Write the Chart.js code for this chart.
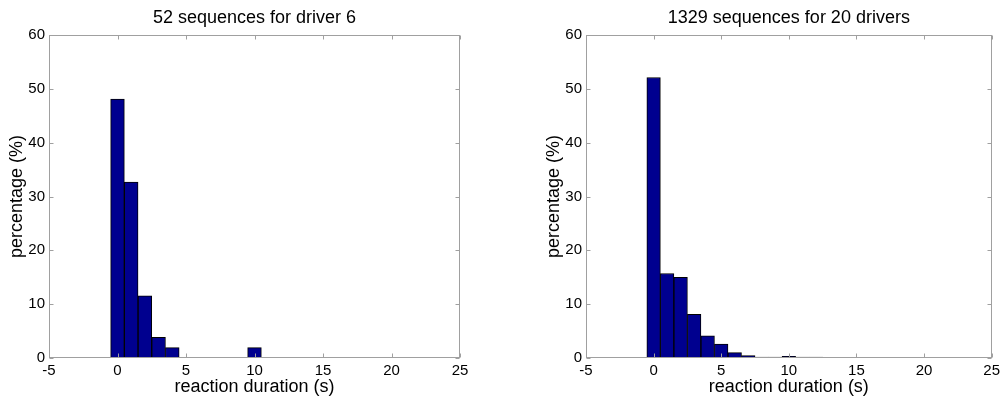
<!DOCTYPE html>
<html>
<head>
<meta charset="utf-8">
<script src="https://cdn.jsdelivr.net/npm/chart.js@4.4.1/dist/chart.umd.min.js"></script>
<style>
  html, body { margin:0; padding:0; background:#fff; }
  body { width:1004px; height:400px; position:relative; overflow:hidden; }
  canvas { position:absolute; top:0; }
</style>
</head>
<body>
<canvas id="left" width="500" height="400" style="left:0"></canvas>
<canvas id="right" width="467" height="400" style="left:537px"></canvas>
<script>
/* histogram bins (s) and percentages */
const leftTitle  = '52 sequences for driver 6';
const leftBins   = [0, 1, 2, 3, 4, 10];
const leftPct    = [48.08, 32.69, 11.54, 3.85, 1.92, 1.92];

const rightTitle = '1329 sequences for 20 drivers';
const rightBins  = [0, 1, 2, 3, 4, 5, 6, 7, 8, 9, 10, 11, 12];
const rightPct   = [52.1, 15.7, 15.0, 8.1, 4.1, 2.6, 1.0, 0.45, 0.15, 0.08, 0.3, 0.15, 0.08];

const xTicks = [-5, 0, 5, 10, 15, 20, 25];
const yTicks = [0, 10, 20, 30, 40, 50, 60];
const xLabel = 'reaction duration (s)';
const yLabel = 'percentage (%)';

Chart.defaults.font.family = "'Liberation Sans', Arial, sans-serif";
Chart.defaults.color = '#000';

const BAR = '#00008F';
const AXIS = '#a0a0a0';

/* matlab-ish frame: box, inward ticks on all four sides, title above */
const frame = {
  id: 'frame',
  afterDraw(chart, args, o) {
    const { ctx, chartArea: a, scales: { x, y } } = chart;
    const L = Math.round(a.left) + 0.5, R = Math.round(a.right) - 0.5;
    const T = Math.round(a.top) + 0.5, B = Math.round(a.bottom) - 0.5;
    ctx.save();
    ctx.strokeStyle = AXIS; ctx.lineWidth = 1;
    ctx.strokeRect(L, T, R - L, B - T);
    ctx.beginPath();
    x.ticks.forEach(t => {
      const px = Math.round(x.getPixelForValue(t.value)) + 0.5;
      ctx.moveTo(px, B); ctx.lineTo(px, B - 4);
      ctx.moveTo(px, T); ctx.lineTo(px, T + 4);
    });
    y.ticks.forEach(t => {
      const py = Math.round(y.getPixelForValue(t.value)) + 0.5;
      ctx.moveTo(L, py); ctx.lineTo(L + 4, py);
      ctx.moveTo(R, py); ctx.lineTo(R - 4, py);
    });
    ctx.stroke();
    ctx.fillStyle = '#000';
    ctx.font = "18px 'Liberation Sans', Arial, sans-serif";
    ctx.textAlign = 'center'; ctx.textBaseline = 'alphabetic';
    ctx.fillText(o.text, (a.left + a.right) / 2, 23);
    ctx.restore();
  }
};

function makeChart(id, title, bins, pct, padRight) {
  return new Chart(document.getElementById(id), {
    type: 'bar',
    data: {
      datasets: [{
        data: bins.map((b, i) => ({ x: b, y: pct[i] })),
        backgroundColor: BAR, borderColor: '#000', borderWidth: 1,
        barPercentage: 1, categoryPercentage: 1, minBarLength: 1
      }]
    },
    options: {
      responsive: false, animation: false,
      layout: { padding: { top: 35, right: padRight, bottom: 0, left: 0 } },
      plugins: { legend: { display: false }, tooltip: { enabled: false }, frame: { text: title } },
      scales: {
        x: {
          type: 'linear', min: -5, max: 25, offset: false,
          grid: { display: false, drawTicks: false }, border: { display: false },
          afterBuildTicks: s => { s.ticks = xTicks.map(v => ({ value: v })); },
          ticks: { padding: 4, maxRotation: 0, autoSkip: false, font: { size: 15 } },
          title: { display: true, text: xLabel, font: { size: 18 }, padding: { top: 0, bottom: 2 } },
          afterFit: s => { s.height = 42; }
        },
        y: {
          min: 0, max: 60,
          grid: { display: false, drawTicks: false }, border: { display: false },
          afterBuildTicks: s => { s.ticks = yTicks.map(v => ({ value: v })); },
          ticks: { padding: 4, font: { size: 15 } },
          title: { display: true, text: yLabel, font: { size: 18 }, padding: { top: 6, bottom: 0 } },
          afterFit: s => { s.width = 49; }
        }
      }
    },
    plugins: [frame]
  });
}

makeChart('left', leftTitle, leftBins, leftPct, 40);
makeChart('right', rightTitle, rightBins, rightPct, 8);
</script>
</body>
</html>
